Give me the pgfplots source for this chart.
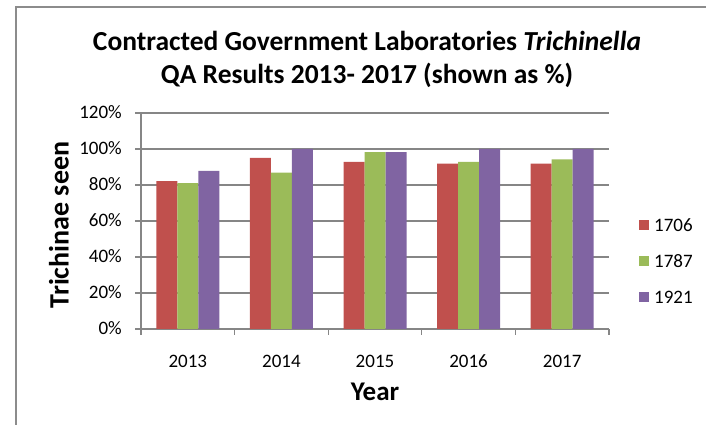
\documentclass[border=0pt]{standalone}
\usepackage{fontspec}
\setmainfont{Carlito}
\usepackage{pgfplots}
\pgfplotsset{compat=1.18}

\definecolor{exred}{HTML}{C0504D}
\definecolor{exgreen}{HTML}{9BBB59}
\definecolor{expurple}{HTML}{8064A2}
\definecolor{exgrid}{HTML}{868686}
\definecolor{exframe}{HTML}{8C8C8C}

\begin{document}
\begin{tikzpicture}[x=1pt,y=1pt]
\useasboundingbox (0,0) rectangle (706,425);
% chart frame (cut off at right and bottom)
\draw[exframe, line width=1.5pt] (16,0) -- (16,418) -- (706,418);

\begin{axis}[
  at={(141pt,96pt)}, anchor=south west,
  scale only axis,
  width=468pt, height=216pt,
  ybar=0pt, bar width=21pt,
  xmin=-0.5, xmax=4.5,
  ymin=0, ymax=120,
  axis x line*=bottom, axis y line*=left,
  axis line style={exgrid, line width=1.2pt},
  xtick={0,1,2,3,4},
  xticklabels={2013,2014,2015,2016,2017},
  minor xtick={-0.5,0.5,1.5,2.5,3.5,4.5},
  ytick={0,20,40,60,80,100,120},
  yticklabel={\pgfmathprintnumber{\tick}\%},
  tick align=outside,
  major x tick style={draw=none},
  minor tick length=6pt,
  major tick length=6pt,
  tick style={exgrid, line width=1.2pt},
  ymajorgrids,
  grid style={exgrid, line width=1.2pt},
  /pgf/number format/assume math mode=true,
  ticklabel style={font=\fontsize{19}{20}\selectfont, text=black,
    inner sep=0pt, text height=12pt, text depth=0pt},
  xticklabel style={anchor=north, yshift=-20pt},
  yticklabel style={anchor=east, xshift=-13pt},
  legend style={draw=none, fill=none, inner sep=0pt,
    at={(1.064,0.509)}, anchor=north west,
    font=\fontsize{19}{20}\selectfont, text=black,
    nodes={inner sep=0pt, text height=12pt, text depth=0pt},
    row sep=24pt,
    /tikz/every odd column/.append style={column sep=5pt}},
  legend cell align=left,
]
\addplot[fill=exred, draw=none,
  legend image code/.code={\fill[exred] (0pt,-5pt) rectangle (10pt,5pt);}]
  coordinates {(0,82.2) (1,95.0) (2,92.8) (3,91.9) (4,91.9)};
\addplot[fill=exgreen, draw=none,
  legend image code/.code={\fill[exgreen] (0pt,-5pt) rectangle (10pt,5pt);}]
  coordinates {(0,81.1) (1,86.9) (2,98.3) (3,92.8) (4,94.3)};
\addplot[fill=expurple, draw=none,
  legend image code/.code={\fill[expurple] (0pt,-5pt) rectangle (10pt,5pt);}]
  coordinates {(0,87.8) (1,100) (2,98.3) (3,100) (4,100)};
\legend{1706,1787,1921}
\end{axis}

\node[font=\bfseries\fontsize{27.5}{29}\selectfont] at (367,384)
  {Contracted Government Laboratories \textit{Trichinella}};
\node[font=\bfseries\fontsize{27.5}{29}\selectfont] at (367,350)
  {QA Results 2013- 2017 (shown as \%)};
\node[font=\bfseries\fontsize{28}{30}\selectfont, rotate=90] at (59,200)
  {Trichinae seen};
\node[font=\bfseries\fontsize{27}{29}\selectfont] at (375,33) {Year};
\end{tikzpicture}
\end{document}
